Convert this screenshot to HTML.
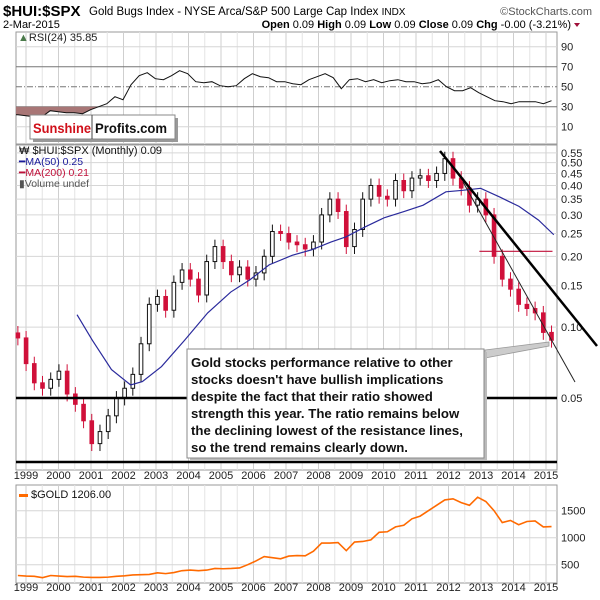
<!DOCTYPE html>
<html><head><meta charset="utf-8"><style>
body{margin:0;background:#fff;}
svg{display:block;font-family:"Liberation Sans",sans-serif;}
</style></head><body>
<svg id="c" width="600" height="600" viewBox="0 0 600 600">
<g>
<text x="3" y="16" font-size="15" font-weight="bold">$HUI:$SPX</text>
<text x="89" y="15" font-size="11.5">Gold Bugs Index - NYSE Arca/S&amp;P 500 Large Cap Index <tspan font-size="10">INDX</tspan></text>
<text x="592" y="15" font-size="11" fill="#555" text-anchor="end">©StockCharts.com</text>
<text x="3" y="28" font-size="11">2-Mar-2015</text>
<text x="571" y="28" font-size="11" text-anchor="end"><tspan font-weight="bold">Open</tspan> 0.09 <tspan font-weight="bold">High</tspan> 0.09 <tspan font-weight="bold">Low</tspan> 0.09 <tspan font-weight="bold">Close</tspan> 0.09 <tspan font-weight="bold">Chg</tspan> -0.00 (-3.21%)</text>
<path d="M574,23 l6,0 l-3,4z" fill="#a0103a"/>
</g>
<g id="grid"></g>
<g id="plots"></g>
<g id="overlay"></g>
</svg>
<script>
// ---- data ----
const startT = 1998.75, endT = 2015.17;
const hui = [0.09,0.07,0.058,0.055,0.06,0.065,0.052,0.047,0.04,0.032,0.036,0.042,0.05,0.055,0.063,0.085,0.125,0.135,0.118,0.155,0.175,0.16,0.137,0.19,0.22,0.19,0.167,0.18,0.16,0.17,0.2,0.255,0.25,0.23,0.224,0.215,0.23,0.3,0.35,0.31,0.22,0.26,0.35,0.4,0.36,0.35,0.42,0.38,0.43,0.44,0.42,0.45,0.52,0.43,0.39,0.33,0.35,0.3,0.2,0.16,0.145,0.125,0.12,0.115,0.095,0.088];
const ma50T = [2000.57,2001.04,2001.63,2002.22,2002.58,2003.17,2003.88,2004.59,2005.30,2005.89,2006.48,2007.19,2007.78,2008.38,2008.85,2009.44,2010.03,2010.63,2011.22,2011.92,2012.4,2012.99,2013.58,2014.17,2014.77,2015.24];
const ma50V = [0.113,0.088,0.066,0.0568,0.0587,0.068,0.088,0.115,0.141,0.159,0.184,0.202,0.213,0.230,0.242,0.267,0.292,0.310,0.330,0.376,0.381,0.389,0.357,0.326,0.285,0.247];
const ma200T = [2012.95,2015.2];
const ma200V = [0.21,0.21];
const rsi = [22,21,20,20,26,25,24,24,23,27,30,33,40,37,52,61,64,58,57,61,66,63,55,54,55,51,50,51,58,63,60,59,55,55,53,52,57,60,63,59,48,57,58,55,57,54,56,57,55,55,53,54,57,50,46,46,49,44,40,36,35,33,35,35,35,33,36];
const gold = [300,290,285,260,300,290,280,285,270,265,265,270,285,295,310,315,320,350,335,355,390,400,390,400,430,425,430,440,500,570,650,630,610,660,670,665,750,900,900,910,760,920,930,960,1100,1110,1200,1230,1350,1400,1500,1600,1700,1720,1650,1600,1750,1670,1500,1280,1320,1240,1300,1310,1200,1206];
const years = [1999,2000,2001,2002,2003,2004,2005,2006,2007,2008,2009,2010,2011,2012,2013,2014,2015];
const huiTicks = [0.55,0.50,0.45,0.40,0.35,0.30,0.25,0.20,0.15,0.10,0.05];
const rsiTicks = [90,70,50,30,10];
const goldTicks = [1500,1000,500];

// ---- layout ----
const L=16,R=557;
const rsiTop=32,rsiBot=144, mainTop=145,mainBot=470, goldTop=485,goldBot=583;
const NS="http://www.w3.org/2000/svg";
const xT=t=>26+(t-1999)*32.5;
const yH=v=>398-102.2*Math.log(v/0.05);
const yR=v=>136.7-v;
const yG=v=>564.7-(v-500)*0.054;
const tAt=(i,n)=>startT+(endT-startT)*i/(n-1);
function mk(tag,attrs,parent){const e=document.createElementNS(NS,tag);for(const k in attrs)e.setAttribute(k,attrs[k]);parent.appendChild(e);return e;}
const grid=document.getElementById('grid'),plots=document.getElementById('plots');

[[rsiTop,rsiBot,'rsi-panel'],[mainTop,mainBot,'price-panel'],[goldTop,goldBot,'gold-panel']].forEach(p=>{
  const r=mk('rect',{x:L,y:p[0],width:R-L,height:p[1]-p[0],fill:'#fff',stroke:'#999','stroke-width':1},grid);
  
  
  years.forEach(y=>{[0,0.5].forEach(h=>{const x=xT(y+h-1)+32.5;if(x>L&&x<R){const ln=mk('line',{x1:x,x2:x,y1:p[0],y2:p[1],stroke:h?'#e4e4e4':'#cfcfcf','stroke-width':1},grid);}});});
});
huiTicks.forEach(v=>{const y=yH(v);const ln=mk('line',{x1:L,x2:R,y1:y,y2:y,stroke:'#d6d6d6'},grid);
 const t=mk('text',{x:561,y:y+4,'font-size':11,fill:'#222'},grid);t.textContent=v.toFixed(2);});
rsiTicks.forEach(v=>{const y=yR(v);const ln=mk('line',{x1:L,x2:R,y1:y,y2:y,stroke:(v==70||v==30||v==50)?'#777':'#d6d6d6','stroke-dasharray':v==50?'6,2,1,2':'none'},grid);
 const t=mk('text',{x:561,y:y+4,'font-size':11,fill:'#222'},grid);t.textContent=v;});
goldTicks.forEach(v=>{const y=yG(v);const ln=mk('line',{x1:L,x2:R,y1:y,y2:y,stroke:'#d6d6d6'},grid);
 const t=mk('text',{x:561,y:y+4,'font-size':11,fill:'#222'},grid);t.textContent=v;});
[479,591].forEach(yy=>years.forEach(y=>{const t=mk('text',{x:xT(y),y:yy,'font-size':11,'text-anchor':'middle',fill:'#222'},grid);t.textContent=y;}));

// RSI
const rp=rsi.map((v,i)=>[xT(tAt(i,rsi.length)),yR(v)]);
let cross=rp.findIndex((p,i)=>rsi[i]>=30);
const fp=mk('path',{d:'M'+L+','+yR(30)+' L'+L+','+rp[0][1]+' L'+rp.slice(0,cross+1).map(p=>p.join(',')).join(' L')+' L'+rp[cross][0]+','+yR(30)+'Z',fill:'#a87676'},plots);


const rl=mk('polyline',{points:[[L,rp[0][1]]].concat(rp).map(p=>p.join(',')).join(' '),fill:'none',stroke:'#111','stroke-width':1},plots);



// candles
const cw=(xT(endT)-xT(startT))/(hui.length-1);
hui.forEach((c,i)=>{
  const o=i?hui[i-1]:c*1.05,x=xT(tAt(i,hui.length));
  const up=c>=o,hi=Math.max(o,c)*1.07,lo=Math.min(o,c)*0.93;
  const col=up?'#111':'#d0103a';
  const w=mk('line',{x1:x,x2:x,y1:yH(hi),y2:yH(lo),stroke:col,'stroke-width':1},plots);
  
  
  const yt=yH(Math.max(o,c)),yb=yH(Math.min(o,c));
  const b=mk('rect',{x:x-cw*0.22,y:yt,width:cw*0.44,height:Math.max(1,yb-yt),fill:up?'#fff':col,stroke:col,'stroke-width':1},plots);
  
  
});
const m50=mk('polyline',{points:ma50T.map((t,i)=>xT(t)+','+yH(ma50V[i])).join(' '),fill:'none',stroke:'#2a2a9c','stroke-width':1.2},plots);


const m200=mk('polyline',{points:ma200T.map((t,i)=>xT(t)+','+yH(ma200V[i])).join(' '),fill:'none',stroke:'#c0103a','stroke-width':1.2},plots);



const gl=mk('polyline',{points:gold.map((v,i)=>xT(tAt(i,gold.length))+','+yG(v)).join(' '),fill:'none',stroke:'#ff6a00','stroke-width':1.6},plots);


</script>
<script>
(function(){
const ov=document.getElementById('overlay');
ov.innerHTML=`
<line x1="16" x2="557" y1="398" y2="398" stroke="#000" stroke-width="2.5"/>
<line x1="16" x2="557" y1="462" y2="462" stroke="#000" stroke-width="2.5"/>
<line x1="440" y1="151" x2="597" y2="346" stroke="#000" stroke-width="2.5"/>
<line x1="463" y1="182" x2="575" y2="382" stroke="#222" stroke-width="1"/>
<polygon points="485,350 549,342 549,346 485,358" fill="#ccc" stroke="#999" stroke-width="0.8"/>
<rect x="190" y="352" width="297" height="109" fill="#bbb"/>
<rect x="187" y="349" width="297" height="109" fill="#fff" stroke="#888"/>
<text font-size="13.2" font-weight="bold" fill="#111">
<tspan x="191" y="367">Gold stocks performance relative to other</tspan>
<tspan x="191" y="384">stocks doesn't have bullish implications</tspan>
<tspan x="191" y="401">despite the fact that their ratio showed</tspan>
<tspan x="191" y="418">strength this year. The ratio remains below</tspan>
<tspan x="191" y="435">the declining lowest of the resistance lines,</tspan>
<tspan x="191" y="452">so the trend remains clearly down.</tspan>
</text>
<text x="18" y="41" font-size="11" fill="#222"><tspan fill="#4a7a4a">▲</tspan>RSI(24) 35.85</text>
<rect x="33" y="118" width="145" height="24" fill="#999"/>
<rect x="30" y="115" width="145" height="24" fill="#fff" stroke="#888"/>
<line x1="92" x2="92" y1="115" y2="139" stroke="#444"/>
<text x="33" y="133" font-size="14" font-weight="bold" fill="#d0101a" textLength="58" lengthAdjust="spacingAndGlyphs">Sunshine</text>
<text x="95" y="133" font-size="14" font-weight="bold" fill="#111" textLength="72" lengthAdjust="spacingAndGlyphs">Profits.com</text>
<text x="19" y="154" font-size="11" fill="#111">₩ $HUI:$SPX (Monthly) 0.09</text>
<text x="19" y="165" font-size="10.5" fill="#1a1a9a">━MA(50) 0.25</text>
<text x="19" y="176" font-size="10.5" fill="#c0103a">━MA(200) 0.21</text>
<text x="19" y="187" font-size="10.5" fill="#555">▮Volume undef</text>
<rect x="19" y="494" width="9" height="3" fill="#ff6a00"/>
<text x="31" y="498" font-size="11" fill="#111">$GOLD 1206.00</text>`;
})();
</script>
</body></html>
